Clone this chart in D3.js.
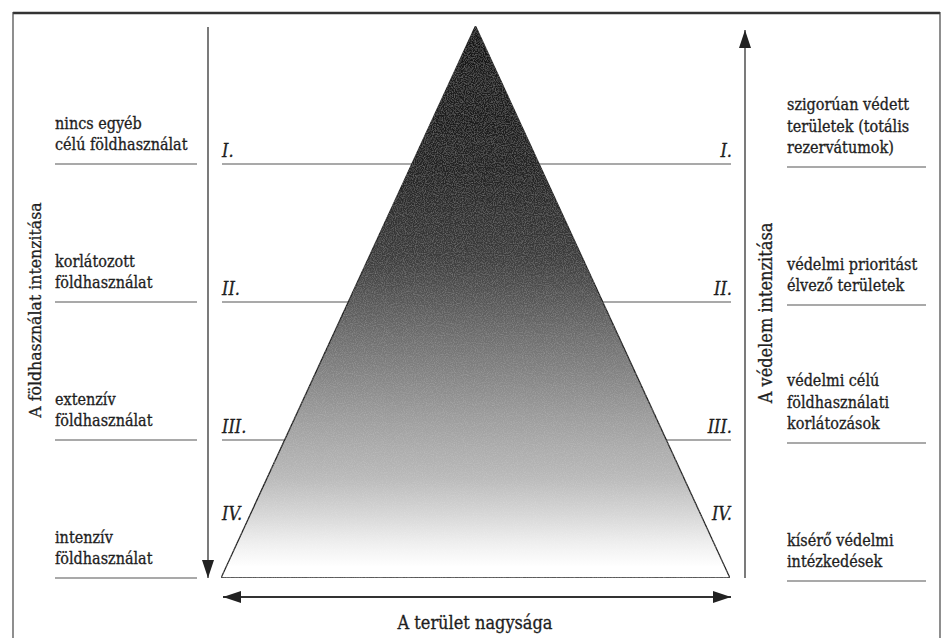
<!DOCTYPE html>
<html>
<head>
<meta charset="utf-8">
<script src="https://cdn.jsdelivr.net/npm/d3@7"></script>
<style>
body { margin: 0; background: #fff; }
svg text { font-family: "DejaVu Serif Condensed", "DejaVu Serif", serif; font-stretch: condensed; fill: #1e1e1e; stroke: #1e1e1e; stroke-width: 0.3; }
.num { font-style: italic; }
</style>
</head>
<body>
<svg id="chart" width="944" height="638"></svg>
<script>
// levels of the pyramid, from top (I.) to bottom (IV.)
var levels = ["I.", "II.", "III.", "IV."];
var leftLabels = [
  ["nincs egyéb", "célú földhasználat"],
  ["korlátozott", "földhasználat"],
  ["extenzív", "földhasználat"],
  ["intenzív", "földhasználat"]
];
var rightLabels = [
  ["szigorúan védett", "területek (totális", "rezervátumok)"],
  ["védelmi prioritást", "élvező területek"],
  ["védelmi célú", "földhasználati", "korlátozások"],
  ["kísérő védelmi", "intézkedések"]
];
var leftAxisTitle = "A földhasználat intenzitása";
var rightAxisTitle = "A védelem intenzitása";
var bottomTitle = "A terület nagysága";

var svg = d3.select("#chart");

// boundary index 0 = apex, 4 = base
var y = d3.scaleLinear().domain([0, levels.length]).range([26, 578]);
// horizontal: -1 = left base corner, 1 = right base corner
var x = d3.scaleLinear().domain([-1, 1]).range([221, 730]);

var defs = svg.append("defs");
var grad = defs.append("linearGradient").attr("id", "pyr")
  .attr("x1", 0).attr("y1", 0).attr("x2", 0).attr("y2", 1);
[[0, "#161616"], [0.25, "#222222"], [0.42, "#3c3c3c"], [0.55, "#6a6a6a"],
 [0.72, "#a0a0a0"], [0.82, "#bababa"], [0.88, "#d4d4d4"], [0.94, "#f0f0f0"], [0.98, "#ffffff"]]
  .forEach(function(s){
    grad.append("stop").attr("offset", s[0]).attr("stop-color", s[1]);
  });

// grain
var f = defs.append("filter").attr("id", "grain").attr("x", 0).attr("y", 0).attr("width", 1).attr("height", 1);
f.append("feTurbulence").attr("type", "fractalNoise").attr("baseFrequency", 0.9).attr("numOctaves", 2).attr("seed", 3).attr("result", "n");
f.append("feColorMatrix").attr("in", "n").attr("type", "matrix")
  .attr("values", "0 0 0 0 1  0 0 0 0 1  0 0 0 0 1  0 0 0 0.25 -0.1").attr("result", "w");
f.append("feComposite").attr("in", "w").attr("in2", "SourceGraphic").attr("operator", "in").attr("result", "wn");
f.append("feMerge").selectAll("feMergeNode").data(["SourceGraphic", "wn"]).enter()
  .append("feMergeNode").attr("in", function(d){ return d; });

var marker = function(id, path){
  defs.append("marker").attr("id", id)
    .attr("viewBox", "0 -6 18 12").attr("refX", 18).attr("refY", 0)
    .attr("markerWidth", 18).attr("markerHeight", 12).attr("markerUnits", "userSpaceOnUse")
    .attr("orient", "auto-start-reverse")
    .append("path").attr("d", path).attr("fill", "#222");
};
marker("arr", "M0,-6 L18,0 L0,6 Z");

// frame
svg.append("line").attr("x1", 13).attr("x2", 940).attr("y1", 13).attr("y2", 13)
  .attr("stroke", "#333").attr("stroke-width", 2.5);
svg.append("line").attr("x1", 13).attr("x2", 13).attr("y1", 12).attr("y2", 638)
  .attr("stroke", "#444").attr("stroke-width", 1.2);
svg.append("line").attr("x1", 940).attr("x2", 940).attr("y1", 12).attr("y2", 638)
  .attr("stroke", "#444").attr("stroke-width", 1.2);

// level lines across the pyramid area
var bounds = d3.range(1, levels.length);
svg.selectAll("line.mid").data(bounds).enter().append("line").attr("class", "mid")
  .attr("x1", x(-1) + 1).attr("x2", x(1) + 1)
  .attr("y1", function(d){ return y(d); }).attr("y2", function(d){ return y(d); })
  .attr("stroke", "#555").attr("stroke-width", 1.2);

// pyramid
var tri = [[0, 0], [-1, levels.length], [1, levels.length]];
svg.append("path")
  .attr("d", d3.line().x(function(d){ return x(d[0]); }).y(function(d){ return y(d[1]); })(tri) + "Z")
  .attr("fill", "url(#pyr)").attr("filter", "url(#grain)")
  .attr("stroke", "#222").attr("stroke-width", 1.3).attr("stroke-linejoin", "miter");

// roman numerals
var numY = function(i){ return i < levels.length - 1 ? y(i + 1) - 7 : y(i) + 80; };
svg.selectAll("text.numL").data(levels).enter().append("text").attr("class", "num numL")
  .attr("x", 222).attr("y", function(d, i){ return numY(i); })
  .attr("font-size", 18).text(function(d){ return d; });
svg.selectAll("text.numR").data(levels).enter().append("text").attr("class", "num numR")
  .attr("x", 732).attr("y", function(d, i){ return numY(i); })
  .attr("text-anchor", "end").attr("font-size", 18).text(function(d){ return d; });

// side labels with underlines
var sideBlock = function(labels, x0, x1, dy){
  var g = svg.selectAll(null).data(labels).enter().append("g");
  g.append("line").attr("x1", x0).attr("x2", x1)
    .attr("y1", function(d, i){ return y(i + 1) + dy; })
    .attr("y2", function(d, i){ return y(i + 1) + dy; })
    .attr("stroke", "#555").attr("stroke-width", 1.2);
  g.append("text").attr("font-size", 16)
    .attr("y", function(d, i){ return y(i + 1) + dy - 14 - (d.length - 1) * 21.5; })
    .selectAll("tspan").data(function(d){ return d; }).enter().append("tspan")
    .attr("x", x0).attr("dy", function(d, j){ return j ? 21.5 : 0; })
    .text(function(d){ return d; });
};
sideBlock(leftLabels, 55, 197, 0);
sideBlock(rightLabels, 787, 926, 3);

// arrows
svg.append("line").attr("x1", 208).attr("x2", 208).attr("y1", 27).attr("y2", 578)
  .attr("stroke", "#333").attr("stroke-width", 1.3).attr("marker-end", "url(#arr)");
svg.append("line").attr("x1", 745).attr("x2", 745).attr("y1", 578).attr("y2", 30)
  .attr("stroke", "#333").attr("stroke-width", 1.3).attr("marker-end", "url(#arr)");
svg.append("line").attr("x1", x(-1) + 2).attr("x2", x(1) + 1).attr("y1", 597).attr("y2", 597)
  .attr("stroke", "#333").attr("stroke-width", 1.8)
  .attr("marker-start", "url(#arr)").attr("marker-end", "url(#arr)");

// axis titles
svg.append("text").attr("transform", "translate(41,310) rotate(-90)")
  .attr("text-anchor", "middle").attr("font-size", 17.5).text(leftAxisTitle);
svg.append("text").attr("transform", "translate(772,313) rotate(-90)")
  .attr("text-anchor", "middle").attr("font-size", 18).text(rightAxisTitle);
svg.append("text").attr("x", 475).attr("y", 629)
  .attr("text-anchor", "middle").attr("font-size", 18).text(bottomTitle);
</script>
</body>
</html>
